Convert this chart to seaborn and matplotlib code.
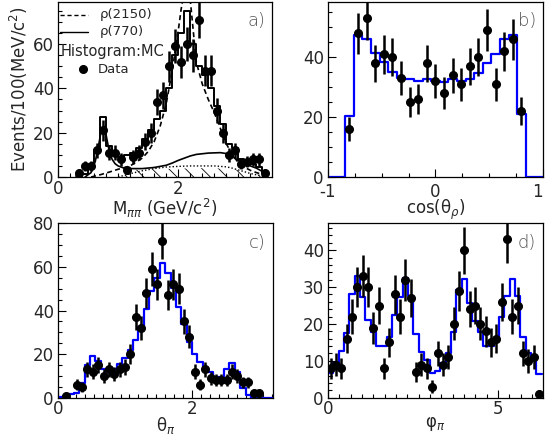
import numpy as np
import pandas as pd
import matplotlib
matplotlib.use("Agg")
import matplotlib.pyplot as plt
import seaborn as sns
from matplotlib.ticker import MultipleLocator

####################################
# data
####################################

# a) M_pipi, bins of 0.1 from 0.3 to 3.5
mpp_edges = np.linspace(0.3, 3.5, 33)
mpp_data = [2, 5, 5, 12, 21, 11, 11, 8, 3, 9, 11, 16, 20, 34, 37, 50,
            59, 52, 60, 55, 71, 48, 48, 30, 20, 10, 12, 6, 7, 8, 8, 2]
mpp_mc = [0.5, 1.5, 4, 12, 27, 14, 10, 9, 10, 11, 13, 17, 21, 26, 30, 40,
          55, 65, 75, 60, 50, 46, 40, 32, 24, 15, 13, 8, 7, 6, 4.5, 2]

# curves in a)
rho2150_x = [0.55, 0.7, 0.85, 1.0, 1.2, 1.4, 1.5, 1.6, 1.7, 1.8, 1.9, 2.0, 2.05, 2.1, 2.15,
             2.2, 2.25, 2.3, 2.4, 2.5, 2.6, 2.7, 2.8, 2.9, 3.0, 3.1, 3.2, 3.3, 3.4, 3.5]
rho2150_y = [0.0, 1.0, 2.2, 3.5, 5.0, 8.5, 11.5, 16, 23, 33, 48, 66, 76, 84, 86,
             80, 66, 52, 42, 35, 29, 22, 15, 10, 6.5, 4.5, 3.0, 2.0, 1.2, 0.5]
rho770_x = [0.45, 0.55, 0.62, 0.68, 0.72, 0.76, 0.8, 0.85, 0.9, 0.95, 1.0, 1.1, 1.2, 1.4, 1.6,
            1.8, 1.9, 2.0, 2.1, 2.2, 2.3, 2.5, 2.7, 2.8, 2.9, 3.0, 3.1, 3.2, 3.3, 3.4, 3.5]
rho770_y = [0.0, 2.0, 7.0, 15.0, 21.0, 23.0, 19.0, 12.0, 8.0, 6.0, 5.0, 4.0, 3.8, 3.8, 4.3,
            5.3, 6.3, 7.5, 8.5, 9.5, 10.2, 10.8, 11.0, 10.6, 9.2, 7.5, 6.2, 5.0, 4.0, 2.5, 0.8]
dotted_x = [1.0, 1.2, 1.4, 1.6, 1.8, 2.0, 2.2, 2.4, 2.6, 2.8, 2.9, 3.0, 3.1, 3.2, 3.3, 3.4, 3.5]
dotted_y = [0.0, 1.5, 2.8, 3.8, 4.5, 4.8, 5.0, 5.0, 5.0, 4.6, 4.0, 3.2, 2.4, 1.6, 1.0, 0.5, 0.2]
hatch_x = [1.1, 1.15, 1.3, 1.6, 2.0, 2.4, 2.8, 3.0, 3.2, 3.35, 3.45]
hatch_y = [0.0, 3.0, 3.3, 3.5, 3.8, 4.0, 3.8, 3.2, 2.0, 0.8, 0.0]

# b) cos(theta_rho), bins of 0.08 from -0.84 to 0.84 (plus empty ends)
cos_edges = np.concatenate([[-1.0], np.linspace(-0.84, 0.84, 22), [1.0]])
cos_data = [16, 48, 53, 38, 41, 40, 33, 25, 26, 38, 32, 28, 34, 31, 37, 40, 49, 31, 42, 46, 22]
cos_mc = [0, 20.3, 47.6, 46.1, 41.5, 38.3, 35.2, 33.1, 32.9, 32.2, 32.6, 32.2, 31.9, 32.6,
          32.2, 32.8, 34.8, 38.1, 41.1, 46.1, 47.6, 21.2, 0]
cos_ticks = [-1, 0, 1]

# c) theta_pi, bins of 0.08 from 0 to 3.2
th_edges = np.linspace(0, 3.2, 41)
th_data = [np.nan, 1, np.nan, 6, 5, 13, 12, 15, 10, 13, 11, 13, 14, 20, 37, 32, 48, 59, 52, 72,
           47, 52, 50, 35, 28, 12, 6, 13, 9, 8, 8, 8, 12, 10, 7, 7, 2, 2, np.nan, np.nan]
th_mc = [0.4, 0.6, 1.5, 2.3, 6.9, 15, 19.1, 16.8, 13, 12.2, 13, 15.5, 18, 22, 26.5, 32.6, 40.5,
         49, 55, 61.6, 57.3, 50.4, 41.8, 33.6, 25.4, 19.9, 16.5, 13.2, 12, 9.7, 9.7, 13.2, 16.1,
         12.0, 4.4, 1.4, 0, 0, 0, 0]

# d) phi_pi, bins of pi/20 from 0 to 2pi
phi_edges = np.linspace(0, 2 * np.pi, 41)
phi_data = [8, 9, 8, 16, 22, 30, 33, 30, 19, 25, 8, 15, 28, 22, 32, 27, 7, 9, 8, 3,
            12, 9, 11, 20, 29, 40, 24, 25, 20, 18, 15, 16, 26, 43, 22, 25, 12, 10, 11, 1]
phi_mc = [6.6, 9.4, 12.7, 17.6, 28.2, 33, 27.3, 21.1, 17.9, 14.1, 14.1, 16.4, 22.3, 27.3,
          32.5, 27.6, 17.3, 12.3, 10.1, 6.6, 7.2, 9.4, 12.2, 17.9, 29.1, 32.1, 25.7, 20.9,
          17.7, 14.1, 14.1, 15.6, 21.8, 27.7, 32.1, 27.7, 16.4, 12.1, 10.5, 6.3]

####################################
# style
####################################

sns.set_style("ticks")
plt.rcParams['font.family'] = ['DejaVu Sans']
plt.rcParams['mathtext.fontset'] = 'dejavusans'
plt.rcParams['hatch.linewidth'] = 0.6
plt.rcParams['hatch.color'] = 'black'

TICK = 12
LAB = 12

fig = plt.figure(figsize=(5.45, 4.36), dpi=100)
ax_a = fig.add_axes([0.1064, 0.594, 0.3927, 0.4014])
ax_b = fig.add_axes([0.6018, 0.594, 0.3945, 0.4014])
ax_c = fig.add_axes([0.1064, 0.0878, 0.3945, 0.400])
ax_d = fig.add_axes([0.6018, 0.0878, 0.3945, 0.400])


def centers(edges):
    e = np.asarray(edges, dtype=float)
    return 0.5 * (e[1:] + e[:-1])


def draw_mc(ax, edges, heights, color, lw):
    df = pd.DataFrame({'x': centers(edges), 'w': np.asarray(heights, dtype=float)})
    sns.histplot(data=df, x='x', weights='w', bins=list(edges), element='step',
                 fill=False, color=color, linewidth=lw, ax=ax)


def draw_data(ax, edges, counts):
    x = centers(edges)
    y = np.asarray(counts, dtype=float)
    ok = ~np.isnan(y)
    ax.errorbar(x[ok], y[ok], yerr=np.sqrt(y[ok]), fmt='o', color='black',
                ms=5.5, elinewidth=1.8, capsize=0, zorder=5)


def style_axes(ax, xmaj, xmin, ymaj, ymin, xlim, ylim, letter):
    ax.set_xlim(*xlim)
    ax.set_ylim(*ylim)
    ax.xaxis.set_major_locator(MultipleLocator(xmaj))
    ax.xaxis.set_minor_locator(MultipleLocator(xmin))
    ax.yaxis.set_major_locator(MultipleLocator(ymaj))
    ax.yaxis.set_minor_locator(MultipleLocator(ymin))
    ax.tick_params(which='both', direction='in', labelsize=TICK, width=0.8, color='black')
    ax.tick_params(which='major', length=6)
    ax.tick_params(axis='y', which='major', pad=3)
    ax.tick_params(axis='x', which='major', pad=2)
    ax.tick_params(which='minor', length=3)
    for s in ax.spines.values():
        s.set_linewidth(0.9)
        s.set_color('black')
    ax.set_xlabel('')
    ax.set_ylabel('')
    ax.text(0.925, 0.89, letter, transform=ax.transAxes, fontsize=13,
            color='#555555', ha='center', va='center', fontweight='light')


def put_xlabel(ax, text, y=-0.1):
    ax.set_xlabel(text, fontsize=LAB)
    ax.xaxis.set_label_coords(0.5, y)


####################################
# a) M_pipi
####################################
ax = ax_a
ax.fill_between(hatch_x, 0, hatch_y, facecolor='none', edgecolor='black',
                hatch='\\\\', linewidth=0)
sns.lineplot(x=dotted_x, y=dotted_y, ax=ax, color='black', lw=1.0, linestyle=(0, (1, 1.5)))
sns.lineplot(x=rho770_x, y=rho770_y, ax=ax, color='black', lw=1.2)
sns.lineplot(x=rho2150_x, y=rho2150_y, ax=ax, color='black', lw=1.2, linestyle=(0, (3, 2)))
draw_mc(ax, mpp_edges, mpp_mc, 'black', 1.4)
draw_data(ax, mpp_edges, mpp_data)
style_axes(ax, 2, 0.2, 20, 5, (0, 3.56), (0, 79), 'a)')
put_xlabel(ax, r'M$_{\pi\pi}$ (GeV/c$^{2}$)', y=-0.115)
ax.set_ylabel(r'Events/100(MeV/c$^{2}$)', fontsize=LAB, labelpad=2)

# legend drawn by hand, ROOT style
ax.plot([0.01, 0.14], [0.926, 0.926], transform=ax.transAxes, color='black',
        lw=1.0, linestyle=(0, (3, 2)))
ax.text(0.196, 0.926, 'ρ(2150)', transform=ax.transAxes, fontsize=9.5, va='center')
ax.plot([0.01, 0.14], [0.829, 0.829], transform=ax.transAxes, color='black', lw=1.0)
ax.text(0.196, 0.829, 'ρ(770)', transform=ax.transAxes, fontsize=9.5, va='center')
ax.text(0.01, 0.72, 'Histogram:MC', transform=ax.transAxes, fontsize=10.5, va='center')
ax.plot([0.117], [0.617], 'o', transform=ax.transAxes, color='black', ms=5.5)
ax.text(0.187, 0.617, 'Data', transform=ax.transAxes, fontsize=9.5, va='center')

####################################
# b) cos(theta_rho)
####################################
ax = ax_b
draw_mc(ax, cos_edges, cos_mc, 'blue', 1.6)
draw_data(ax, cos_edges[1:-1], cos_data)
style_axes(ax, 1, 0.25, 20, 5, (-1, 1), (0, 58.5), 'b)')
ax.tick_params(axis='x', which='major', pad=4)
ax.set_xticks(cos_ticks, labels=[str(t) for t in cos_ticks])
ax.get_xticklabels()[-1].set_horizontalalignment('right')
put_xlabel(ax, r'cos(θ$_{\rho}$)', y=-0.12)

####################################
# c) theta_pi
####################################
ax = ax_c
draw_mc(ax, th_edges, th_mc, 'blue', 1.6)
draw_data(ax, th_edges, th_data)
style_axes(ax, 2, 2 / 15, 20, 5, (0, 3.21), (0, 80), 'c)')
put_xlabel(ax, r'θ$_{\pi}$')

####################################
# d) phi_pi
####################################
ax = ax_d
draw_mc(ax, phi_edges, phi_mc, 'blue', 1.6)
draw_data(ax, phi_edges, phi_data)
style_axes(ax, 5, 1 / 3, 10, 2, (0, 6.32), (0, 47.3), 'd)')
put_xlabel(ax, r'φ$_{\pi}$')

plt.savefig("out.png", dpi=100)
